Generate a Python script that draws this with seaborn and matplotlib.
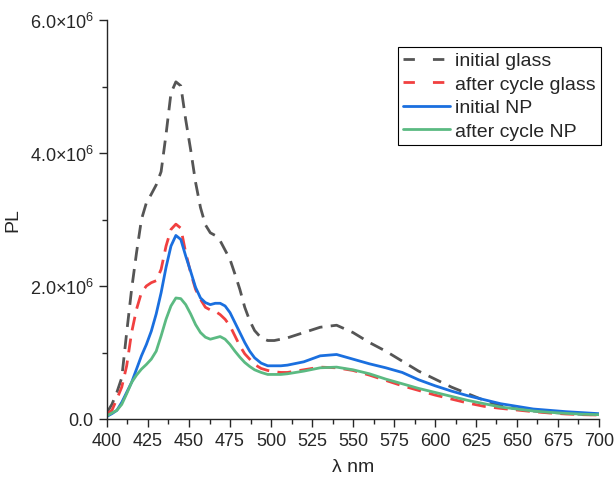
import numpy as np
import pandas as pd
import matplotlib
matplotlib.use("Agg")
import matplotlib.pyplot as plt
from matplotlib.ticker import MultipleLocator, FuncFormatter
import seaborn as sns

# Data (PL in units of 1e6)
wavelength = [400, 403, 406, 409, 412, 415, 418, 421, 424, 427, 430, 433, 436, 439, 442,
              445, 448, 451, 454, 457, 460, 463, 466, 469, 472, 475, 478, 481, 484, 487,
              490, 494, 498, 502, 506, 510, 520, 530, 540, 550, 560, 570, 580, 590, 600,
              610, 620, 630, 640, 650, 660, 670, 680, 690, 700]

initial_glass = [0.10, 0.22, 0.40, 0.62, 1.30, 1.95, 2.50, 3.00, 3.25, 3.38, 3.52, 3.72, 4.28, 4.90, 5.07,
                 5.01, 4.50, 4.05, 3.56, 3.18, 2.92, 2.80, 2.76, 2.68, 2.54, 2.40, 2.18, 1.95, 1.68, 1.48,
                 1.33, 1.22, 1.18, 1.18, 1.20, 1.22, 1.30, 1.38, 1.41, 1.30, 1.15, 1.02, 0.87, 0.72, 0.60,
                 0.48, 0.38, 0.28, 0.20, 0.15, 0.12, 0.10, 0.085, 0.07, 0.06]

after_glass = [0.08, 0.13, 0.30, 0.48, 0.80, 1.30, 1.65, 1.90, 2.00, 2.05, 2.08, 2.25, 2.60, 2.85, 2.93,
               2.87, 2.50, 2.20, 1.95, 1.80, 1.68, 1.64, 1.62, 1.57, 1.50, 1.40, 1.25, 1.10, 0.98, 0.90,
               0.82, 0.76, 0.73, 0.71, 0.70, 0.70, 0.74, 0.78, 0.77, 0.73, 0.66, 0.58, 0.50, 0.43, 0.36,
               0.30, 0.24, 0.19, 0.16, 0.135, 0.11, 0.09, 0.075, 0.065, 0.06]

initial_np = [0.04, 0.08, 0.13, 0.25, 0.40, 0.55, 0.75, 0.95, 1.12, 1.32, 1.58, 1.90, 2.28, 2.60, 2.76,
              2.70, 2.45, 2.22, 1.98, 1.82, 1.75, 1.72, 1.74, 1.74, 1.70, 1.60, 1.45, 1.30, 1.15, 1.02,
              0.92, 0.84, 0.80, 0.80, 0.80, 0.81, 0.86, 0.95, 0.97, 0.90, 0.83, 0.77, 0.70, 0.59, 0.50,
              0.42, 0.35, 0.29, 0.23, 0.19, 0.15, 0.13, 0.11, 0.095, 0.08]

after_np = [0.05, 0.09, 0.13, 0.22, 0.38, 0.55, 0.66, 0.75, 0.82, 0.90, 1.02, 1.25, 1.50, 1.70, 1.82,
            1.81, 1.72, 1.58, 1.42, 1.30, 1.23, 1.20, 1.22, 1.24, 1.20, 1.12, 1.02, 0.93, 0.85, 0.79,
            0.74, 0.70, 0.67, 0.67, 0.67, 0.68, 0.72, 0.77, 0.78, 0.74, 0.68, 0.60, 0.53, 0.46, 0.40,
            0.34, 0.28, 0.23, 0.18, 0.15, 0.12, 0.10, 0.085, 0.072, 0.065]

labels = ["initial glass", "after cycle glass", "initial NP", "after cycle NP"]
series = [initial_glass, after_glass, initial_np, after_np]

df = pd.concat([pd.DataFrame({"wl": wavelength, "pl": np.array(v) * 1e6, "series": lab})
                for lab, v in zip(labels, series)], ignore_index=True)

# Plot
sns.set_style("ticks")
plt.rcParams['font.family'] = ['Liberation Sans', 'DejaVu Sans']
plt.rcParams['mathtext.fontset'] = 'custom'
plt.rcParams['mathtext.rm'] = 'Liberation Sans'
plt.rcParams['mathtext.it'] = 'Liberation Sans:italic'
plt.rcParams['lines.solid_joinstyle'] = 'round'
plt.rcParams['lines.dash_joinstyle'] = 'round'

fig = plt.figure(figsize=(6.14, 4.81), dpi=100)
ax = fig.add_axes([107 / 614, 1 - 420 / 481, 492 / 614, 399 / 481])

palette = {"initial glass": "#555555", "after cycle glass": "#F14040",
           "initial NP": "#1A6FDF", "after cycle NP": "#5BBA82"}
dashes = {"initial glass": (5, 3), "after cycle glass": (5, 3),
          "initial NP": "", "after cycle NP": ""}

sns.lineplot(data=df, x="wl", y="pl", hue="series", style="series",
             palette=palette, dashes=dashes, linewidth=2.0, ax=ax)

# Decorations
ax.set_xlim(400, 700)
ax.set_ylim(0, 6e6)
ax.xaxis.set_major_locator(MultipleLocator(25))
ax.xaxis.set_minor_locator(MultipleLocator(12.5))
ax.yaxis.set_major_locator(MultipleLocator(2e6))
ax.yaxis.set_minor_locator(MultipleLocator(1e6))


def fmt(v, pos):
    if v == 0:
        return "0.0"
    return r"$%.1f{\times}10^{6}$" % (v / 1e6)


ax.yaxis.set_major_formatter(FuncFormatter(fmt))
ax.tick_params(which="major", length=6, width=1, labelsize=13, direction="out")
ax.tick_params(which="minor", length=3.5, width=1, direction="out")
for s in ["left", "bottom"]:
    ax.spines[s].set_linewidth(1)
sns.despine(ax=ax)

ax.set_xlabel("λ nm", fontsize=14, labelpad=6)
ax.set_ylabel("PL", fontsize=14, labelpad=6)

leg = ax.legend(title=None, loc="upper left", bbox_to_anchor=(398 / 614, 1 - 48 / 481),
                bbox_transform=fig.transFigure, fontsize=14, frameon=True, fancybox=False,
                edgecolor="black", framealpha=1, handlelength=2.4, labelspacing=0.3,
                borderpad=0.25, handletextpad=0.3, borderaxespad=0)
leg.get_frame().set_linewidth(0.8)
for h in leg.get_lines()[:2]:
    h.set_linestyle((0, (4.1, 6.5)))

plt.savefig("out.png", dpi=100)
